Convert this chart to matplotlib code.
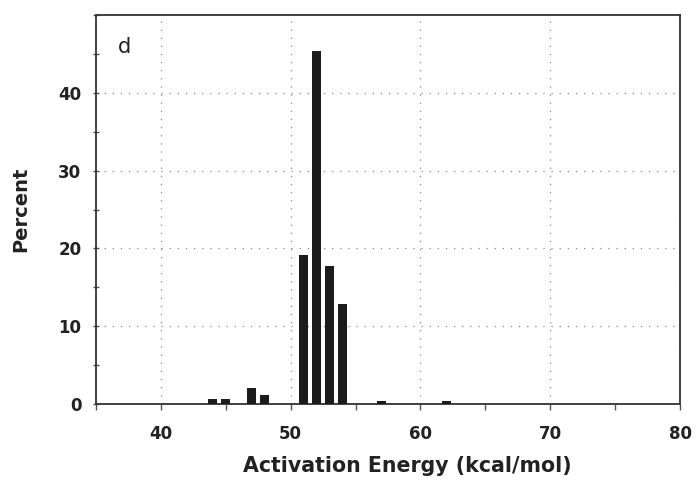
import matplotlib.pyplot as plt
from matplotlib.ticker import MultipleLocator

# activation energy bins (kcal/mol) and percent of total
energy = [44, 45, 47, 48, 51, 52, 53, 54, 57, 62]
percent = [0.6, 0.6, 2.0, 1.15, 19.2, 45.4, 17.7, 12.8, 0.4, 0.4]

plt.rcParams['font.family'] = ['DejaVu Sans']

fig = plt.figure(figsize=(6.96, 4.83), dpi=100)
ax = fig.add_axes([96 / 696, 1 - 404 / 483, 584 / 696, 389 / 483])

ax.bar(energy, percent, width=0.72, color='#1c1c1c', zorder=3)

ax.set_xlim(35, 80)
ax.set_ylim(0, 50)
ax.xaxis.set_major_locator(MultipleLocator(10))
ax.xaxis.set_minor_locator(MultipleLocator(5))
ax.yaxis.set_major_locator(MultipleLocator(10))
ax.yaxis.set_minor_locator(MultipleLocator(5))
ax.set_yticks([0, 10, 20, 30, 40])

ax.grid(True, which='major', linestyle=(0, (1, 5.5)), color='#888888', linewidth=0.9, zorder=0)

for s in ax.spines.values():
    s.set_color('#333333')
    s.set_linewidth(1.3)

ax.tick_params(axis='x', which='both', direction='out', length=4, width=1, color='#555555',
               labelsize=12, pad=11)
ax.tick_params(axis='y', which='both', direction='inout', length=5, width=1, color='#555555',
               labelsize=12, pad=8)
for lbl in ax.get_xticklabels() + ax.get_yticklabels():
    lbl.set_fontweight('bold')
    lbl.set_color('#222222')

ax.set_xlabel('Activation Energy (kcal/mol)', fontsize=14.8, fontweight='bold', color='#222222')
ax.set_ylabel('Percent', fontsize=14, fontweight='bold', color='#222222')
ax.xaxis.set_label_coords(0.533, -0.133)
ax.yaxis.set_label_coords(-0.113, 0.5)

ax.text(0.038, 0.918, 'd', transform=ax.transAxes, fontsize=15, va='center', color='#222222')

fig.savefig('out.png', dpi=100)
